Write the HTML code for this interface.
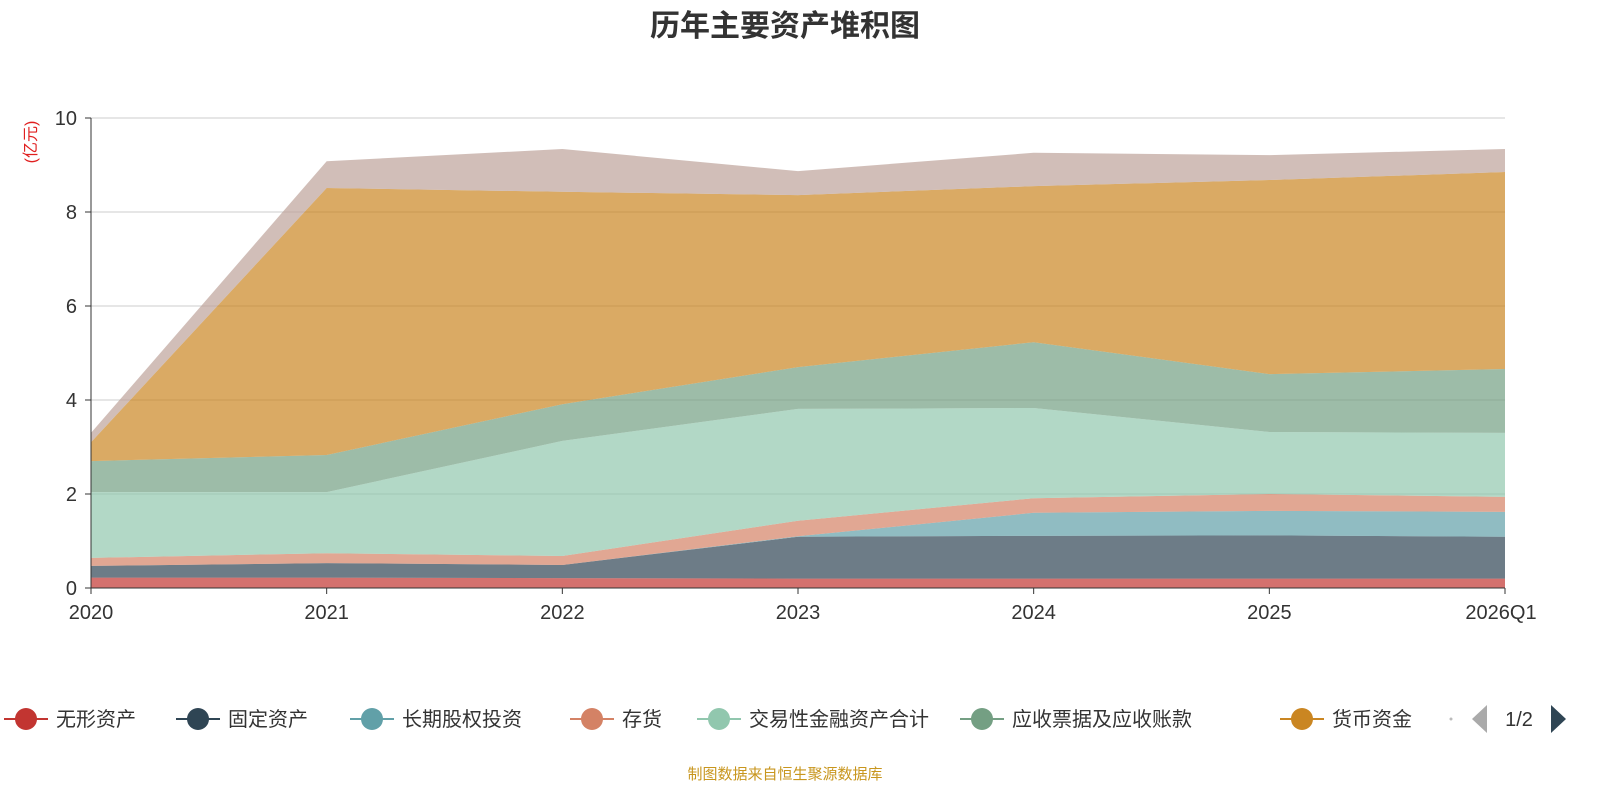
<!DOCTYPE html>
<html><head><meta charset="utf-8"><style>
body{margin:0;background:#fff;width:1600px;height:800px;overflow:hidden;font-family:"Liberation Sans","Noto Sans CJK SC",sans-serif}
</style></head><body>
<svg id="c" width="1600" height="800" xmlns="http://www.w3.org/2000/svg">
<text x="785" y="36" text-anchor="middle" font-size="30" font-weight="bold" fill="#333" font-family="Liberation Sans,Noto Sans CJK SC,sans-serif">历年主要资产堆积图</text>
<text transform="translate(36,142) rotate(-90)" text-anchor="middle" font-size="16" fill="#e02020" font-family="Liberation Sans,Noto Sans CJK SC,sans-serif">(亿元)</text>
<g id="grid"></g><g id="areas"></g><g id="axes"></g><g id="legend"></g>
<text x="785" y="779" text-anchor="middle" font-size="15" fill="#c8961e" font-family="Liberation Sans,Noto Sans CJK SC,sans-serif">制图数据来自恒生聚源数据库</text>
</svg>
<script>
const categories=["2020","2021","2022","2023","2024","2025","2026Q1"];
const seriesNames=["无形资产","固定资产","长期股权投资","存货","交易性金融资产合计","应收票据及应收账款","货币资金","其他"];
const s0=[0.22,0.22,0.21,0.2,0.2,0.2,0.2];
const s1=[0.25,0.31,0.28,0.89,0.91,0.92,0.89];
const s2=[0,0,0,0.01,0.49,0.52,0.53];
const s3=[0.17,0.21,0.19,0.33,0.31,0.36,0.32];
const s4=[1.40,1.30,2.45,2.38,1.92,1.32,1.36];
const s5=[0.66,0.79,0.78,0.89,1.40,1.23,1.36];
const s6=[0.40,5.68,4.52,3.66,3.32,4.13,4.19];
const s7=[0.2,0.57,0.91,0.51,0.71,0.53,0.49];
const yTicks=[0,2,4,6,8,10];
const series=[s0,s1,s2,s3,s4,s5,s6,s7];
const colors=["#c23531","#2f4554","#61a0a8","#d48265","#91c7ae","#749f83","#ca8622","#bda29a"];
const NS="http://www.w3.org/2000/svg";
const X0=91,X1=1505,Y0=588,Y1=118,YMAX=10;
const xs=i=>X0+(X1-X0)*i/(categories.length-1);
const ys=v=>Y0-(Y0-Y1)*v/YMAX;
function mk(t,a,p){const e=document.createElementNS(NS,t);for(const k in a)e.setAttribute(k,a[k]);p.appendChild(e);return e;}
const F="Liberation Sans,Noto Sans CJK SC,sans-serif";
const grid=document.getElementById('grid'),axes=document.getElementById('axes'),areas=document.getElementById('areas');
yTicks.forEach(v=>{
 if(v>0){const l=mk('line',{x1:X0,x2:X1,y1:ys(v),y2:ys(v),stroke:'#ccc'},grid);
 
 }
 const t=mk('text',{x:X0-14,y:ys(v)+7,'text-anchor':'end','font-size':20,fill:'#333','font-family':F},axes);t.textContent=v;
 
 
 mk('line',{x1:X0-6,x2:X0,y1:ys(v),y2:ys(v),stroke:'#333'},axes);
});
mk('line',{x1:X0,x2:X0,y1:Y1,y2:Y0,stroke:'#333'},axes);
mk('line',{x1:X0,x2:X1,y1:Y0,y2:Y0,stroke:'#333'},axes);
categories.forEach((c,i)=>{
 mk('line',{x1:xs(i),x2:xs(i),y1:Y0,y2:Y0+6,stroke:'#333'},axes);
 const t=mk('text',{x:i==categories.length-1?xs(i)-4:xs(i),y:Y0+31,'text-anchor':'middle','font-size':20,fill:'#333','font-family':F},axes);t.textContent=c;
 
 
});
let base=categories.map(()=>0);
series.forEach((s,k)=>{
 const top=s.map((v,i)=>base[i]+v);
 let d='M'+top.map((v,i)=>xs(i)+','+ys(v)).join(' L');
 for(let i=categories.length-1;i>=0;i--)d+=' L'+xs(i)+','+ys(base[i]);
 const p=mk('path',{d:d+'Z',fill:colors[k],'fill-opacity':0.7,stroke:'none'},areas);
 
 
 base=top;
});
const lg=document.getElementById('legend');
const lx=[0,172,346,566,693,956,1276];
seriesNames.slice(0,7).forEach((n,k)=>{
 const g=mk('g',{},lg);
 
 
 mk('line',{x1:lx[k]+4,x2:lx[k]+48,y1:719,y2:719,stroke:colors[k],'stroke-width':2},g);
 mk('circle',{cx:lx[k]+26,cy:719,r:11,fill:colors[k]},g);
 const t=mk('text',{x:lx[k]+56,y:726,'font-size':20,fill:'#333','font-family':F},g);t.textContent=n;
});
mk('circle',{cx:1451,cy:719,r:1.5,fill:'#bbb'},lg);
const pg=mk('g',{},lg);


mk('polygon',{points:'1487,705 1487,733 1472,719',fill:'#aaa'},pg);
mk('polygon',{points:'1551,705 1551,733 1566,719',fill:'#2f4554'},pg);
const pt=mk('text',{x:1519,y:726,'text-anchor':'middle','font-size':20,fill:'#333','font-family':F},pg);pt.textContent='1/2';
</script>
</body></html>
